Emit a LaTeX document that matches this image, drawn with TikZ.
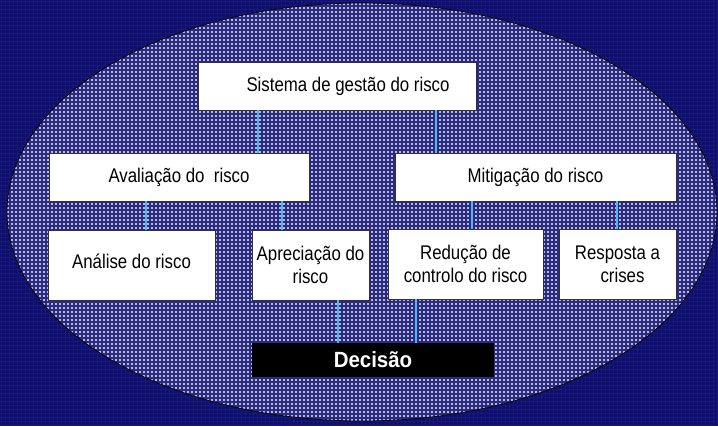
\documentclass[tikz,border=0pt]{standalone}
\usepackage{fontspec}
\setmainfont{Liberation Sans}[FakeStretch=0.85]
\newfontfamily\decfont{Liberation Sans}[FakeStretch=0.93]
\definecolor{navy}{RGB}{14,14,108}
\definecolor{navyline}{RGB}{24,24,120}
\definecolor{lav}{RGB}{184,184,216}
\definecolor{lavline}{RGB}{42,42,128}
\definecolor{conn}{RGB}{80,180,245}
\definecolor{boxline}{RGB}{50,50,50}
\begin{document}
\begin{tikzpicture}[x=1pt,y=-1pt,
  box/.style={draw=boxline,line width=0.8pt,fill=white,inner sep=0pt,align=center,
    font=\fontsize{19.8}{23}\selectfont},
  decbox/.style={fill=black,text=white,inner sep=0pt,
    font=\decfont\bfseries\fontsize{22}{26}\selectfont},
  link/.style={draw=conn,line width=2.3pt}]
\useasboundingbox (0,0) rectangle (718,426);
% background
\fill[navy] (0,0) rectangle (718,426);
\foreach \x in {1,5,...,717} \draw[navyline,line width=0.8pt] (\x,0) -- (\x,426);
\foreach \y in {1,5,...,425} \draw[navyline,line width=0.8pt] (0,\y) -- (718,\y);
% ellipse
\begin{scope}
  \clip (362,212) ellipse [x radius=355, y radius=209];
  \fill[lav] (0,0) rectangle (718,426);
  \foreach \x in {2,6,...,718} \draw[lavline,line width=1.1pt] (\x,0) -- (\x,426);
  \foreach \y in {2,6,...,426} \draw[lavline,line width=1.1pt] (0,\y) -- (718,\y);
\end{scope}
\draw[black,line width=0.8pt] (362,212) ellipse [x radius=355, y radius=209];
% boxes
\node[box,minimum width=278pt,minimum height=48pt] (sis) at (337,86) {\hspace*{22pt}Sistema de gestão do risco};
\node[box,minimum width=260pt,minimum height=48pt] (aval) at (179,177) {Avaliação do\ \ risco};
\node[box,minimum width=281pt,minimum height=48pt] (mit) at (535.5,177) {Mitigação do risco};
\node[box,minimum width=167pt,minimum height=70pt] (ana) at (131.5,265) {\raisebox{8pt}{Análise do risco}};
\node[box,minimum width=117pt,minimum height=70pt] (apr) at (310.5,265) {Apreciação do\\risco};
\node[box,minimum width=155pt,minimum height=70pt] (red) at (465.5,264) {Redução de\\controlo do risco};
\node[box,minimum width=117pt,minimum height=70pt] (resp) at (617.5,264) {Resposta a\\\hspace*{10pt}crises};
\node[decbox,minimum width=242pt,minimum height=34pt] (dec) at (373,360) {Decisão};
% connectors
\draw[link] ([xshift=-79pt]sis.south) -- ([xshift=79pt]aval.north);
\draw[link] ([xshift=99pt]sis.south) -- ([xshift=-99.5pt]mit.north);
\draw[link] ([xshift=-33pt]aval.south) -- ([xshift=14.5pt]ana.north);
\draw[link] ([xshift=103pt]aval.south) -- ([xshift=-28.5pt]apr.north);
\draw[link] ([xshift=-63.5pt]mit.south) -- ([xshift=6.5pt]red.north);
\draw[link] ([xshift=81.5pt]mit.south) -- ([xshift=-0.5pt]resp.north);
\draw[link] ([xshift=27.5pt]apr.south) -- ([xshift=-35pt]dec.north);
\draw[link] ([xshift=-49.5pt]red.south) -- ([xshift=43pt]dec.north);
\end{tikzpicture}
\end{document}
